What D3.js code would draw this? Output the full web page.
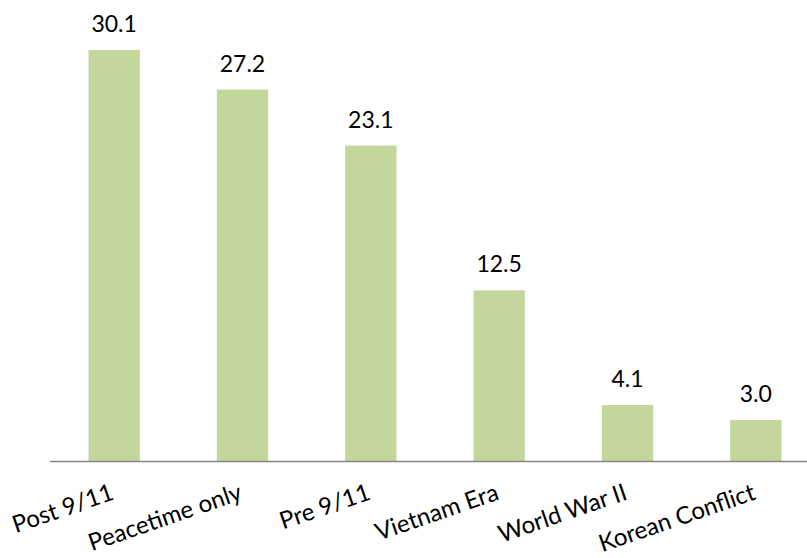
<!DOCTYPE html>
<html>
<head>
<meta charset="utf-8">
<script src="https://cdn.jsdelivr.net/npm/d3@7"></script>
<style>
  html, body { margin: 0; padding: 0; background: #fff; }
  svg { display: block; }
  text { font-family: Lato, "Open Sans", sans-serif; fill: #000; }
</style>
</head>
<body>
<svg id="chart" width="807" height="558"></svg>
<script>
const categories = ["Post 9/11", "Peacetime only", "Pre 9/11", "Vietnam Era", "World War II", "Korean Conflict"];
const values = [30.1, 27.2, 23.1, 12.5, 4.1, 3.0];
const yDomain = [0, 35];

const width = 807, height = 558;
const svg = d3.select("#chart");

const x = d3.scaleBand()
  .domain(categories)
  .range([50, 820])
  .paddingInner(0.6)
  .paddingOuter(0.3);

const baseY = 461;
const pxPerUnit = 13.655;
const y = d3.scaleLinear()
  .domain(yDomain)
  .range([baseY, baseY - yDomain[1] * pxPerUnit]);

const data = categories.map((c, i) => ({ c, v: values[i] }));

svg.append("g").selectAll("rect")
  .data(data)
  .join("rect")
  .attr("x", d => x(d.c))
  .attr("y", d => y(d.v))
  .attr("width", x.bandwidth())
  .attr("height", d => y(0) - y(d.v))
  .attr("fill", "#c3d69b");

// axis line
svg.append("line")
  .attr("x1", x.range()[0])
  .attr("x2", width)
  .attr("y1", y(0) + 0.5)
  .attr("y2", y(0) + 0.5)
  .attr("stroke", "#868686")
  .attr("stroke-width", 1.5);

// value labels
svg.append("g").selectAll("text")
  .data(data)
  .join("text")
  .attr("x", d => x(d.c) + x.bandwidth() / 2)
  .attr("y", d => y(d.v) - 18)
  .attr("text-anchor", "middle")
  .attr("font-size", 23)
  .text(d => d.v.toFixed(1));

// category labels, rotated
svg.append("g").selectAll("text")
  .data(data)
  .join("text")
  .attr("transform", d => `translate(${x(d.c) + x.bandwidth() / 2 + 1},499) rotate(-19)`)
  .attr("text-anchor", "end")
  .attr("font-size", 24)
  .text(d => d.c);
</script>
</body>
</html>
